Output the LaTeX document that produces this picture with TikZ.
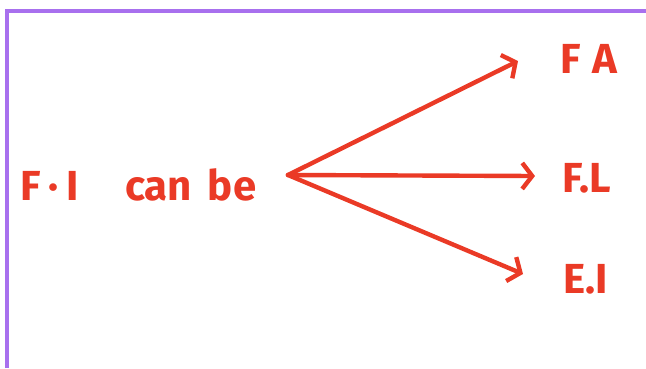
\documentclass[tikz,border=0pt]{standalone}
\usepackage{fontspec}
\setmainfont{Fira Sans}
\usetikzlibrary{arrows.meta}
\definecolor{inkred}{RGB}{234,58,38}
\definecolor{framepurple}{RGB}{168,112,238}
\tikzset{
  ink/.style={text=inkred,font=\fontsize{42}{42}\selectfont\bfseries,inner sep=0pt},
  pen/.style={draw=inkred,line width=4.4pt,line cap=round,line join=round,
    -{Straight Barb[length=10pt,width=26pt,line width=4.4pt]}}
}

\begin{document}
\begin{tikzpicture}[x=1pt,y=-1pt]
  \useasboundingbox (0,0) rectangle (646,368);
  % frame
  \draw[framepurple,line width=4pt] (6.5,368) -- (6.5,11) -- (646,11);
  % labels
  \node[ink,anchor=base west] (src) at (20,200)
    {F\hspace{8pt}·\hspace{8pt}I\hspace{46pt}can\hspace{16pt}be};
  \node[ink,anchor=base west] (fa) at (560,73) {F\hspace{12pt}A};
  \node[ink,anchor=base west] (fl) at (562,192) {F.L};
  \node[ink,anchor=base west] (ei) at (563,293) {E.I};
  % arrows
  \coordinate (hub) at (288,175);
  \coordinate (faend) at (518,61);
  \coordinate (flend) at (535,176);
  \coordinate (eiend) at (523,274);
  \draw[pen] (hub) -- (faend);
  \draw[pen] (hub) -- (flend);
  \draw[pen] (hub) -- (eiend);
\end{tikzpicture}
\end{document}
